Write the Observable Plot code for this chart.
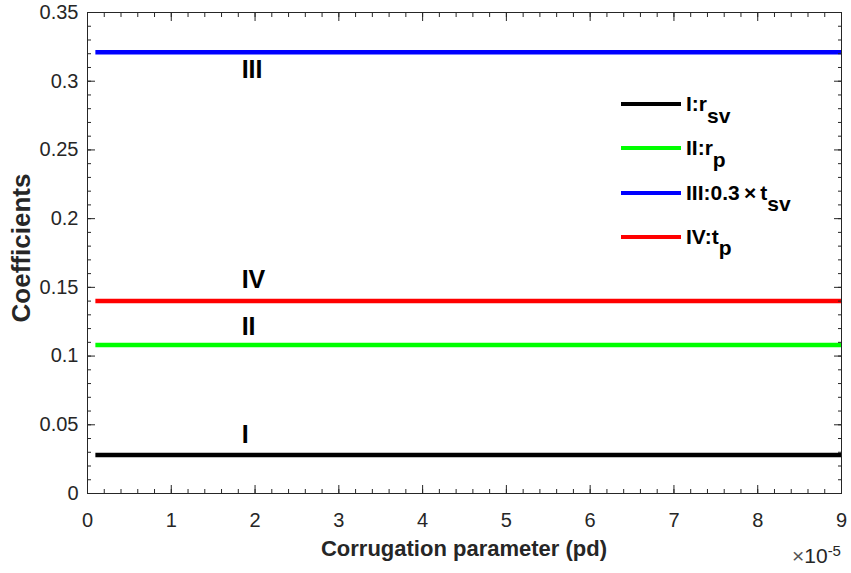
<!DOCTYPE html>
<html><head><meta charset="utf-8">
<script src="https://cdn.jsdelivr.net/npm/d3@7"></script>
<script src="https://cdn.jsdelivr.net/npm/@observablehq/plot@0.6"></script>
<style>
body{margin:0;background:#fff;}
#wrap{position:relative;width:851px;height:573px;font-family:"Liberation Sans",Arial,Helvetica,sans-serif;color:#262626;}
#wrap svg{position:absolute;left:0;top:0;}
.xlabel{position:absolute;left:87px;width:754px;top:536px;text-align:center;font-weight:bold;font-size:22px;line-height:26px;white-space:nowrap;}
.ylabel{position:absolute;left:21px;top:248px;transform:translate(-50%,-50%) rotate(-90deg);font-weight:bold;font-size:26px;line-height:28px;white-space:nowrap;}
.expo{position:absolute;left:792px;top:544px;font-size:21px;line-height:24px;white-space:nowrap;}
.expo sup{font-size:15px;position:relative;top:-5px;vertical-align:top;}
.legend{position:absolute;left:621px;}
.legrow{position:absolute;left:0;height:44px;display:flex;align-items:center;white-space:nowrap;}
.legline{display:inline-block;width:60px;height:4px;margin-right:5px;}
.legtext{font-weight:bold;font-size:21px;color:#000;}
.legtext .sub{position:relative;top:0.55em;}
</style></head><body><div id="wrap"></div>
<script>
// ---- data ----
const seriesNames = ["I", "II", "III", "IV"];
const seriesValues = [0.028, 0.108, 0.321, 0.14];
const seriesColors = ["#000000", "#00ff00", "#0000ff", "#ff0000"];
const xStart = 0.1;   // x in units of 1e-5
const xEnd = 9;
const labelX = 1.84;
const labelY = [0.0426, 0.1213, 0.3085, 0.1553];
const legendMain = ["I:r", "II:r", "III:0.3\u2009\u00d7\u2009t", "IV:t"];
const legendSub = ["sv", "p", "sv", "p"];
const xTicks = [0, 1, 2, 3, 4, 5, 6, 7, 8, 9];
const xTickLabels = ["0", "1", "2", "3", "4", "5", "6", "7", "8", "9"];
const yTicks = [0, 0.05, 0.1, 0.15, 0.2, 0.25, 0.3, 0.35];
const yTickLabels = ["0", "0.05", "0.1", "0.15", "0.2", "0.25", "0.3", "0.35"];
const xMinor = d3.range(0, 46).map(i => i * 0.2);
const yMinor = d3.range(0, 36).map(i => i * 0.01);
const xAxisTitle = "Corrugation parameter (pd)";
const yAxisTitle = "Coefficients";

const rows = seriesNames.map((n, i) => ({name: n, value: seriesValues[i], color: seriesColors[i], ly: labelY[i]}));
const axisColor = "#262626";

const tickAxes = [];
for (const anchor of ["bottom", "top"]) {
  tickAxes.push(Plot.axisX(xMinor, {anchor, tickSize: -4, tickFormat: () => "", label: null, stroke: axisColor}));
  tickAxes.push(Plot.axisX(xTicks, {anchor, tickSize: -8, tickFormat: () => "", label: null, stroke: axisColor}));
}
for (const anchor of ["left", "right"]) {
  tickAxes.push(Plot.axisY(yMinor, {anchor, tickSize: -4, tickFormat: () => "", label: null, stroke: axisColor}));
  tickAxes.push(Plot.axisY(yTicks, {anchor, tickSize: -8, tickFormat: () => "", label: null, stroke: axisColor}));
}

const chart = Plot.plot({
  width: 851,
  height: 573,
  marginLeft: 87,
  marginRight: 10,
  marginTop: 12,
  marginBottom: 80,
  style: {fontFamily: '"Liberation Sans", Arial, Helvetica, sans-serif', fontSize: "20px", color: axisColor, background: "white"},
  x: {domain: [0, 9]},
  y: {domain: [0, 0.35]},
  color: {type: "identity"},
  marks: [
    Plot.ruleY(rows, {y: "value", x1: () => xStart, x2: () => xEnd, stroke: "color", strokeWidth: 4.5}),
    Plot.text(rows, {x: () => labelX, y: "ly", text: "name", textAnchor: "start", lineAnchor: "middle", fill: "#000", fontWeight: "bold", fontSize: 25}),
    ...tickAxes,
    Plot.axisX(xTicks, {anchor: "bottom", tickSize: 0, tickPadding: 19, tickFormat: (d, i) => xTickLabels[i], label: null, fill: axisColor}),
    Plot.axisY(yTicks, {anchor: "left", tickSize: 0, tickPadding: 9, tickFormat: (d, i) => yTickLabels[i], label: null, fill: axisColor}),
    Plot.frame({stroke: axisColor, strokeWidth: 1})
  ]
});

const wrap = document.getElementById("wrap");
wrap.appendChild(chart);

const xl = document.createElement("div"); xl.className = "xlabel"; xl.textContent = xAxisTitle; wrap.appendChild(xl);
const yl = document.createElement("div"); yl.className = "ylabel"; yl.textContent = yAxisTitle; wrap.appendChild(yl);
const ex = document.createElement("div"); ex.className = "expo";
ex.innerHTML = "<span style='color:#555'>\u00d7</span>10<sup>-5</sup>"; wrap.appendChild(ex);

const leg = document.createElement("div"); leg.className = "legend"; wrap.appendChild(leg);
seriesNames.forEach((n, i) => {
  const r = document.createElement("div"); r.className = "legrow";
  r.style.top = (104 - 22 + i * 44.3) + "px";
  const ln = document.createElement("span"); ln.className = "legline"; ln.style.background = seriesColors[i];
  const tx = document.createElement("span"); tx.className = "legtext";
  const m = document.createElement("span"); m.textContent = legendMain[i];
  const s = document.createElement("span"); s.className = "sub"; s.textContent = legendSub[i];
  tx.appendChild(m); tx.appendChild(s);
  r.appendChild(ln); r.appendChild(tx); leg.appendChild(r);
});
</script></body></html>
